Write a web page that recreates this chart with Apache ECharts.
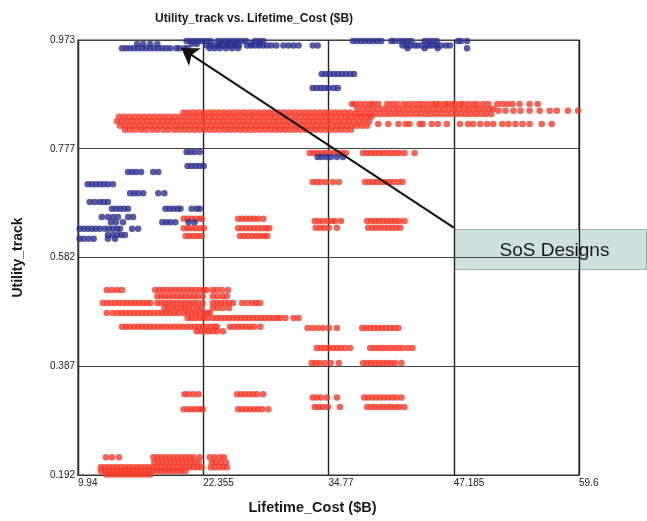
<!DOCTYPE html>
<html>
<head>
<meta charset="utf-8">
<script src="https://cdn.jsdelivr.net/npm/echarts@6/dist/echarts.min.js"></script>
<style>
  html, body { margin: 0; padding: 0; background: #ffffff; }
  #chart { width: 647px; height: 521px; }
</style>
</head>
<body>
<div id="chart"></div>
<script>
// Axis ranges and tick labels
const xTickLabels = ['9.94', '22.355', '34.77', '47.185', '59.6'];
const yTickLabels = ['0.192', '0.387', '0.582', '0.777', '0.973'];
const xMin = 9.94, xMax = 59.6, xStep = 12.415;
const yMin = 0.192, yMax = 0.973, yStep = 0.19525;

// Each row: [Utility_track, [Lifetime_Cost values...]]
// SoS designs (blue)
const blueTopRows = [
  [0.971, [20.7,21.1,21.5,21.9,22.3,22.7,23.1, 23.8,24.2,24.6,25.0,25.4,25.8,26.2,26.6, 27.5,27.9,28.3,
           37.2,37.6,38.0,38.4,38.8,39.2,39.6,40.0, 41.0,41.3, 41.8,42.2,42.6,43.0, 44.3,44.7,45.1,45.5, 47.6,47.9,48.5]],
  [0.966, [15.8,16.4,17.1,17.8, 21.2,21.7, 24.0,24.8,25.6, 27.2,28.0]],
  [0.963, [22.7,23.1,23.5,23.9,24.3,24.7,25.1,25.5,25.9, 26.7,27.1,27.5,27.9,28.3,28.7,29.1,29.6,
           30.3,30.8,31.3,31.8, 33.2,33.7, 42.1,42.5,42.9,43.3,43.6, 44.0,44.5,44.8, 45.1,45.5,45.9,46.4,46.8]],
  [0.958, [14.3,14.7,15.1,15.5,15.9,16.3,16.7,17.1,17.5,17.9,18.3,18.7, 19.1,19.7,20.0,20.5,20.8,
           23.0,23.5,24.0,24.6,25.2,25.8, 42.6,44.3,45.6,48.5]]
];
const blueMidRows = [
  [0.912, [34.1,34.5,34.9,35.3,35.7,36.1,36.5,36.9,37.3]],
  [0.887, [33.2,33.6,34.0,34.4,34.8,35.3,35.7]],
  [0.763, [33.7,34.1,34.6,35.0,35.6,36.2]]
];
const blueLeftRows = [
  [0.772, [20.7,21.1,21.5,22.0]],
  [0.747, [20.8,21.2,21.6,22.0,22.4]],
  [0.736, [14.9,15.3,15.7,16.2, 17.4,17.9]],
  [0.714, [10.9,11.3,11.7,12.1,12.5,12.9,13.4]],
  [0.698, [15.1,15.5,15.9,16.4, 17.9,18.5]],
  [0.682, [11.1,11.6,12.1,12.5,12.9]],
  [0.670, [13.3,13.7,14.1,14.5,14.9, 18.6,19.0,19.4,19.8,20.1, 21.2,21.7,22.0]],
  [0.655, [12.3,12.9, 13.4,13.9, 14.9,15.4]],
  [0.646, [13.2,13.7, 14.4, 18.3,18.7,19.1,19.6, 20.9,21.5]],
  [0.634, [10.1,10.5,10.9,11.3,11.7,12.1, 12.6,13.0,13.4,13.8,14.1, 15.3,15.9]],
  [0.623, [12.9,13.4,13.8, 14.2,14.6]],
  [0.616, [10.1,10.5,11.0,11.5, 12.9,13.6]]
];

// Other designs (red)
const redBandRows = [
  [0.858, [37.1,37.4,37.9,38.4,38.9,39.2,39.7,40.6,41.1,41.6,42.2,42.7,43.2,43.7,44.1,44.6,45.1,45.4,45.8,46.3,
           46.6,47.0,47.3,47.8,48.1,48.6,49.1,49.5,50.1,50.6,51.5,52.0,52.5,53.0,53.7,54.7,55.5]],
  [0.849, [37.6,38.2,38.7,39.2,39.7,40.2,40.7,41.2,41.7,42.2,42.7,43.2,43.7,44.2,44.7,45.2,45.7,46.2,46.7,47.2,
           47.7,48.2,48.7,49.2,49.7,50.2,50.7,51.1]],
  [0.846, [51.6,52.3,53.1,53.8,54.7,55.7,56.7,57.4,58.5,59.5]],
  [0.843, [20.4,20.9,21.4,21.9,22.4,22.9,23.4,23.9,24.4,24.9,25.4,25.9,26.4,26.9,27.4,27.9,28.4,28.9,29.4,29.9,
           30.4,30.9,31.4,31.9,32.4,32.9,33.4,33.9,34.4,34.9,35.4,35.9,36.4,36.9]],
  [0.840, [37.4,37.9,38.4,38.9,39.4,39.9,40.4,40.9,41.4,41.9,42.4,42.9,43.4,43.9,44.4,44.9,45.4,45.9,46.4,46.9,
           47.4,47.9,48.4,48.9,49.4,49.9,50.4,50.9]],
  [0.835, [14.0,14.5,15.0,15.5,16.0,16.5,17.0,17.5,18.0,18.5,19.0,19.5,20.0,20.5,21.0,21.5,22.0,22.5,23.0,23.5,
           24.0,24.5,25.0,25.5,26.0,26.5,27.0,27.5,28.0,28.5,29.0,29.5,30.0,30.5,31.0,31.5,32.0,32.5,33.0,33.5,
           34.0,34.5,35.0,35.5,36.0,36.5,37.0,37.5,38.0,38.5,39.0]],
  [0.827, [13.8,14.3,14.8,15.3,15.8,16.3,16.8,17.3,17.8,18.3,18.8,19.3,19.8,20.3,20.8,21.3,21.8,22.3,22.8,23.3,
           23.8,24.3,24.8,25.3,25.8,26.3,26.8,27.3,27.8,28.3,28.8,29.3,29.8,30.3,30.8,31.3,31.8,32.3,32.8,33.3,
           33.8,34.3,34.8,35.3,35.8,36.3,36.8,37.3,37.8,38.3,38.8]],
  [0.822, [39.7,40.7,41.7,42.4,42.8,43.8,44.1,45.0,45.6,46.5,47.8,48.6,49.1,49.8,50.5,51.1,52.0,52.6,53.3,54.0,
           54.7,55.9,56.9]],
  [0.819, [14.1,14.6,15.1,15.6,16.1,16.6,17.1,17.6,18.1,18.6,19.1,19.6,20.1,20.6,21.1,21.6,22.1,22.6,23.1,23.6,
           24.1,24.6,25.1,25.6,26.1,26.6,27.1,27.6,28.1,28.6,29.1,29.6,30.1,30.6,31.1,31.6,32.1,32.6,33.1,33.6,
           34.1,34.6,35.1,35.6,36.1,36.6,37.1,37.6,38.1,38.6]],
  [0.812, [14.6,15.1,15.6,16.2,16.7,17.3,17.8,18.4,18.9,19.5,20.0,20.5,21.0,21.5,22.0,22.5,23.0,23.5,24.0,24.5,
           25.0,25.5,26.0,26.5,27.0,27.5,28.0,28.5,29.0,29.5,30.0,30.5,31.0,31.5,32.0,32.5,33.0,33.5,34.0,34.5,
           35.0,35.5,36.0,36.5,37.0]]
];
const redMidRows = [
  [0.770, [32.9,33.3,33.7,34.1,34.5,34.9,35.3,35.7,36.1,36.5, 38.2,38.6,39.0,39.4,39.8,40.2,40.6,41.0,41.4,41.8,42.3, 43.3]],
  [0.718, [33.2,33.6,34.0,34.5, 35.2,35.8, 38.4,38.8,39.2,39.6,40.0,40.4,40.8,41.2,41.7,42.1]],
  [0.648, [33.4,33.8,34.2,34.7,35.1, 35.4,36.0, 38.6,39.0,39.4,39.8,40.2,40.6,41.0,41.4,41.8,42.3]],
  [0.636, [33.5,33.9,34.3,34.8, 35.6, 38.7,39.1,39.5,39.9,40.3,40.7,41.1,41.5,41.9]],
  [0.652, [20.4,20.8,21.2,21.6,22.0,22.2, 25.8,26.2,26.6,27.0,27.4,27.8,28.3]],
  [0.635, [20.4,20.8,21.2,21.6,22.0,22.4, 25.8,26.2,26.6,27.0,27.4,27.8,28.2,28.6,28.9]],
  [0.621, [20.6,21.0,21.4,21.8,22.2, 26.0,26.4,26.8,27.2,27.6,28.0,28.4,28.7]]
];
const redLowerRows = [
  [0.524, [12.8,13.3,13.8,14.3, 17.6,18.0,18.4,18.8,19.2,19.6,20.0,20.4,20.8,21.2,21.6,22.0,22.4,22.7, 23.3,23.7,24.2,24.8]],
  [0.513, [17.8,18.2,18.6,19.0,19.4,19.8,20.2,20.6,21.0,21.4,21.8,22.3, 23.3,23.8,24.3,24.7]],
  [0.501, [12.4,12.8,13.2,13.6,14.0,14.4,14.8,15.2,15.6,16.0,16.4,16.8,17.1, 17.8,18.2,18.6,19.0,19.4,19.8,20.2,
           20.6,21.0,21.4,21.8,22.3, 23.3,23.7,24.1,24.5,24.9,25.3, 26.2,26.7,27.2,27.6,28.0]],
  [0.492, [18.5,18.9,19.3,19.7,20.1,20.5,20.9,21.3,21.8,22.2, 23.3,23.8,24.3,24.9]],
  [0.483, [12.8,13.4, 13.9,14.3,14.7,15.1,15.5,15.9,16.3,16.7,17.1,17.5,17.9,18.3,18.7,19.1,19.5,19.9,20.4,
           20.8,21.2,21.6,22.0,22.4,22.8,23.0]],
  [0.474, [20.8,21.2,21.6,22.0,22.4,22.8,23.3, 23.7,24.1,24.5,24.9,25.3,25.7,26.1,26.5,26.9,27.3,27.7,28.1,28.5,
           28.9,29.3,29.7, 30.0,30.5,31.3,31.8]],
  [0.458, [14.3,14.7,15.1,15.5,15.9,16.3,16.7,17.1,17.5,17.9,18.3,18.7,19.1,19.5,19.9,20.3,20.7,21.1,21.5,21.9,
           22.3,22.7,23.1,23.5,23.7, 25.0,25.4,25.8,26.2,26.6,27.0,27.4,28.0]],
  [0.450, [21.7,22.1,22.5,22.9,23.3,23.7,24.3]],
  [0.456, [32.7,33.2,33.7,34.2, 34.8,35.6, 38.1,38.5,38.9,39.3,39.7,40.1,40.5,40.9,41.3,41.7]],
  [0.420, [33.6,34.0,34.4,34.8,35.2,35.6,36.0,36.4,36.9, 38.9,39.3,39.7,40.1,40.5,40.9,41.3,41.7,42.1,42.6, 43.1]],
  [0.393, [33.1,33.5,33.9,34.4, 35.0,35.8, 38.2,38.6,39.0,39.4,39.8,40.2,40.6,41.0,41.4,42.0]]
];
const redBottomRows = [
  [0.337, [20.5,20.9,21.4,21.9, 25.7,26.1,26.5,26.9,27.3,27.7,28.3]],
  [0.331, [33.2,33.6,34.0,34.6, 35.6, 38.3,38.7,39.1,39.5,39.9,40.3,40.7,41.1,41.5,42.0]],
  [0.314, [33.4,33.8,34.2,34.7, 35.9, 38.6,39.0,39.4,39.8,40.2,40.6,41.0,41.4,41.8,42.3]],
  [0.310, [20.4,20.8,21.2,21.6,22.0,22.3, 25.8,26.2,26.6,27.0,27.4,27.8,28.2,28.8]],
  [0.224, [12.7,13.3,14.0, 17.4,17.8,18.2,18.6,19.0,19.4,19.8,20.2,20.6,21.0,21.4,22.0, 23.0,23.5,24.0,24.4]],
  [0.215, [17.5,17.9,18.3,18.7,19.1,19.5,19.9,20.3,20.7,21.1,21.5,21.9, 23.2,23.6,24.1,24.6]],
  [0.206, [12.2,12.6,13.0,13.4,13.8,14.2,14.6,15.0,15.4,15.8,16.2,16.6,17.0, 17.4,17.8,18.2,18.6,19.0,19.4,19.8,
           20.2,20.6,21.0,21.4,21.8,22.2, 23.1,23.5,23.9,24.3,24.7]],
  [0.199, [12.2,12.6,13.0,13.4,13.8,14.2,14.6,15.0,15.4,15.8,16.2,16.6,17.0,17.4,17.8,18.2,18.6,19.0,19.4,19.8,20.2,20.6]],
  [0.193, [12.7,13.1,13.5,13.9,14.3,14.7,15.1,15.5,15.9,16.3,16.7,17.1]]
];

// Annotation arrow: from the callout corner to the SoS design front
const arrowFrom = [47.185, 0.636];
const arrowTo = [20.2, 0.958];

function rowsToPoints(groups) {
  const pts = [];
  groups.forEach(rows => rows.forEach(([y, xs]) => xs.forEach(x => pts.push([x, y]))));
  return pts;
}

const redPoints = rowsToPoints([redBandRows, redMidRows, redLowerRows, redBottomRows]);
const bluePoints = rowsToPoints([blueTopRows, blueMidRows, blueLeftRows]);

const font = 'Liberation Sans, Arial, sans-serif';
const chart = echarts.init(document.getElementById('chart'), null, { renderer: 'canvas' });

chart.setOption({
  backgroundColor: '#ffffff',
  animation: false,
  title: {
    text: 'Utility_track vs. Lifetime_Cost ($B)',
    left: 150, top: 8,
    textStyle: { fontFamily: font, fontSize: 12, fontWeight: 'bold', color: '#1a1a1a' }
  },
  grid: {
    left: 78, right: 68, top: 40, bottom: 46,
    outerBoundsMode: 'none', containLabel: false,
    show: true, borderColor: '#333', borderWidth: 1.2, backgroundColor: '#ffffff'
  },
  xAxis: {
    type: 'value', min: xMin, max: xMax, interval: xStep,
    name: 'Lifetime_Cost ($B)', nameLocation: 'middle', nameGap: 25,
    nameTextStyle: { fontFamily: font, fontSize: 14.5, fontWeight: 'bold', color: '#1a1a1a', padding: [0, 32, 0, 0] },
    axisLine: { show: true, lineStyle: { color: '#333', width: 1.2 } },
    axisTick: { show: false },
    axisLabel: {
      fontFamily: font, fontSize: 10, color: '#222', align: 'left', margin: 3,
      formatter: v => xTickLabels[Math.round((v - xMin) / xStep)] || ''
    },
    splitLine: { show: true, lineStyle: { color: '#222', width: 1.4 } }
  },
  yAxis: {
    type: 'value', min: yMin, max: yMax, interval: yStep,
    name: 'Utility_track', nameLocation: 'middle', nameGap: 53, nameRotate: 90,
    nameTextStyle: { fontFamily: font, fontSize: 14, fontWeight: 'bold', color: '#1a1a1a' },
    axisLine: { show: true, lineStyle: { color: '#333', width: 1.2 } },
    axisTick: { show: false },
    axisLabel: {
      fontFamily: font, fontSize: 10, color: '#222', margin: 3,
      verticalAlign: 'middle', padding: [0, 0, 7, 0],
      formatter: v => yTickLabels[Math.round((v - yMin) / yStep)] || ''
    },
    splitLine: { show: true, lineStyle: { color: '#444', width: 1 } }
  },
  series: [
    {
      type: 'scatter', name: 'Other', data: redPoints,
      symbol: 'circle', symbolSize: 6.5,
      itemStyle: { color: '#f43b28' }, silent: true
    },
    {
      type: 'scatter', name: 'SoS', data: bluePoints,
      symbol: 'circle', symbolSize: 6.5,
      itemStyle: { color: '#2c3290' }, silent: true
    },
    {
      type: 'scatter', data: [], silent: true,
      markLine: {
        silent: true, animation: false,
        symbol: ['none', 'arrow'], symbolSize: 16,
        label: { show: false },
        lineStyle: { color: '#111', width: 2, type: 'solid' },
        data: [[{ coord: arrowFrom }, { coord: arrowTo }]]
      }
    }
  ],
  graphic: [
    {
      type: 'group', left: 454, top: 229, z: 100,
      children: [
        { type: 'rect', shape: { x: 0, y: 0, width: 192, height: 40 },
          style: { fill: '#cde2de', stroke: '#9bb3ae', lineWidth: 1 } },
        { type: 'text', x: 100, y: 21,
          style: { text: 'SoS Designs', font: '19px Liberation Sans, Arial, sans-serif',
                   fill: '#1a1a1a', align: 'center', verticalAlign: 'middle' } }
      ]
    }
  ]
});
</script>
</body>
</html>
